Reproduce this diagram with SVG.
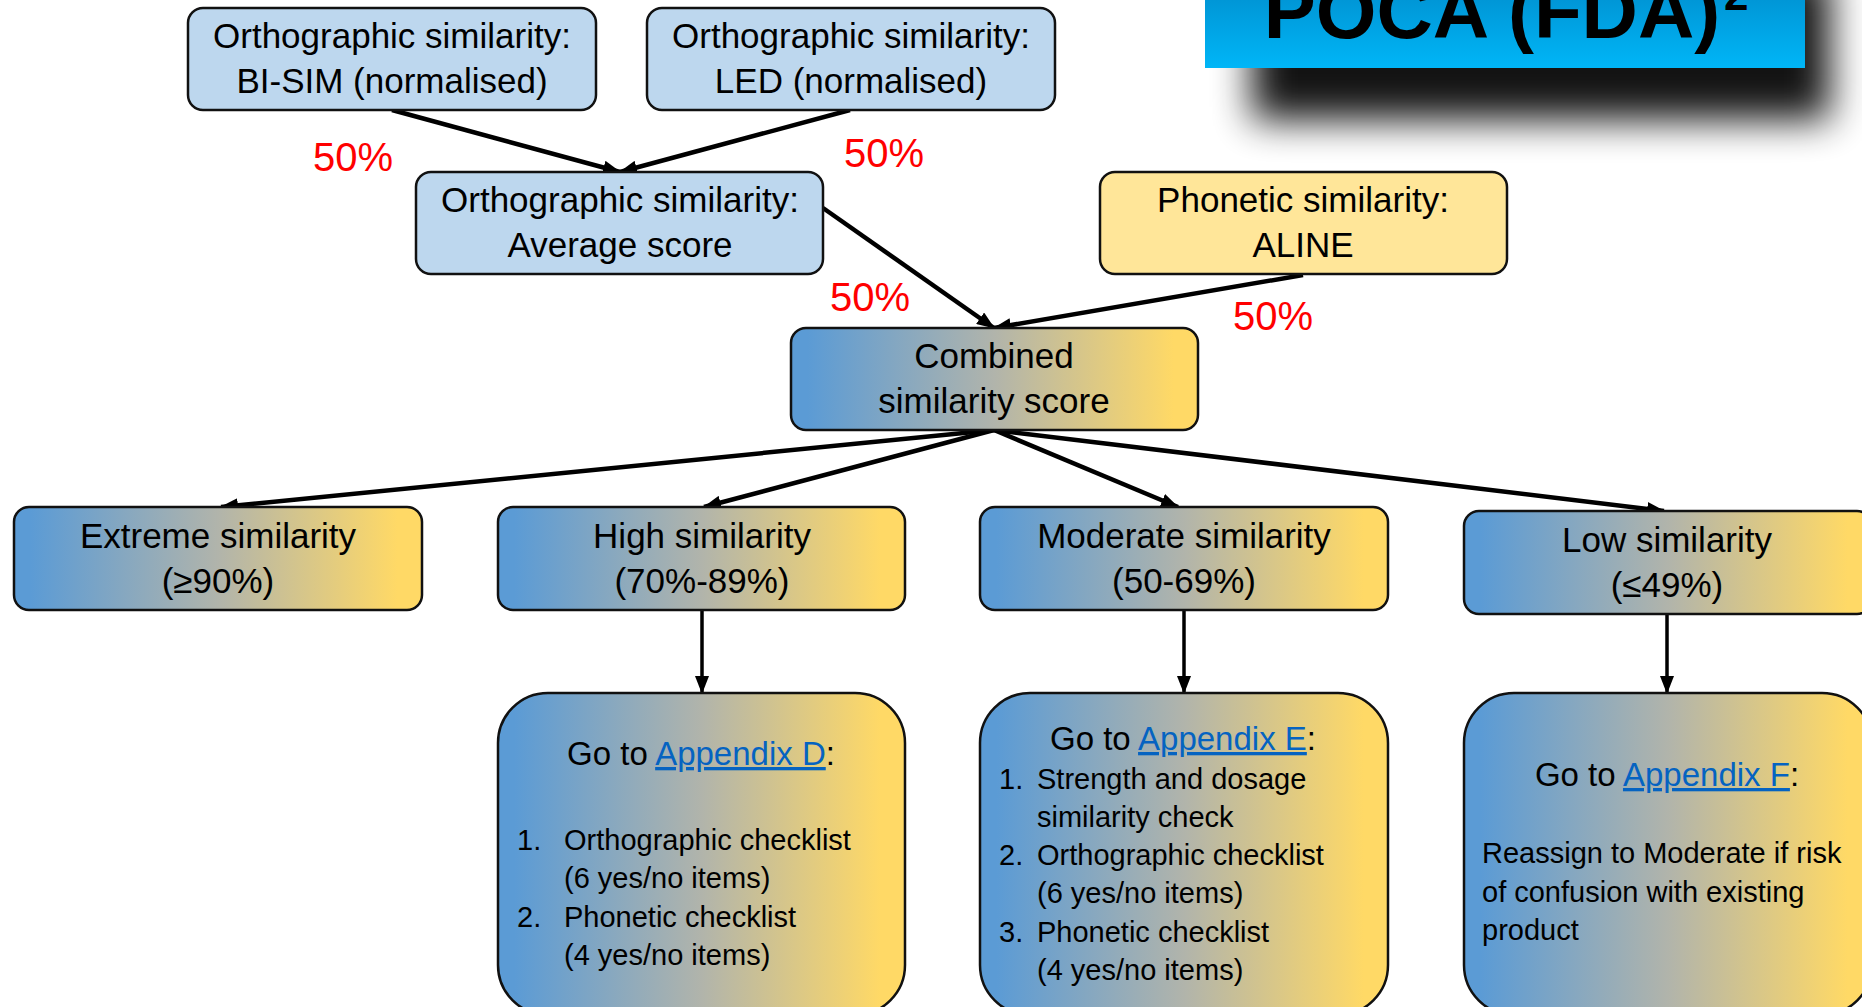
<svg xmlns="http://www.w3.org/2000/svg" width="1862" height="1007" viewBox="0 0 1862 1007">
<defs>
<style>
.t{font-family:"Liberation Sans",Arial,sans-serif;font-size:35px;fill:#000;text-anchor:middle}
.p{font-family:"Liberation Sans",Arial,sans-serif;font-size:40px;fill:#ff0000}
.h{font-family:"Liberation Sans",Arial,sans-serif;font-size:33px;fill:#000;text-anchor:middle}
.l{font-family:"Liberation Sans",Arial,sans-serif;font-size:29px;fill:#000}
.lk{fill:#0563c1;text-decoration:underline}
.blue{fill:#bdd7ee;stroke:#111;stroke-width:2.5}
.yel{fill:#ffe699;stroke:#111;stroke-width:2.5}
.grad{fill:url(#bg);stroke:#111;stroke-width:2.5}
.c{stroke:#000;stroke-width:4.5;fill:none;marker-end:url(#ah)}
.v{stroke:#000;stroke-width:3.5;fill:none;marker-end:url(#ah)}
</style>
<linearGradient id="bg" x1="0" y1="0" x2="1" y2="0">
<stop offset="0.04" stop-color="#5b9bd5"/>
<stop offset="0.5" stop-color="#b1b4ab"/>
<stop offset="0.94" stop-color="#ffd966"/>
</linearGradient>
<linearGradient id="tg" x1="0" y1="0" x2="0" y2="1">
<stop offset="0" stop-color="#0092d2"/>
<stop offset="1" stop-color="#00b6f7"/>
</linearGradient>
<filter id="sh" x="-20%" y="-60%" width="140%" height="220%">
<feGaussianBlur stdDeviation="19"/>
</filter>
<marker id="ah" markerUnits="userSpaceOnUse" markerWidth="18" markerHeight="14" refX="17" refY="7" orient="auto">
<path d="M0,0 L18,7 L0,14 z" fill="#000"/>
</marker>
</defs>
<rect width="1862" height="1007" fill="#fff"/>

<g id="title">
<rect x="1252" y="-30" width="578" height="150" fill="#000" opacity="0.92" filter="url(#sh)"/>
<rect x="1205" y="-10" width="600" height="78" fill="url(#tg)"/>
<text x="1492" y="38" font-family="'Liberation Sans',Arial,sans-serif" font-weight="bold" font-size="78" text-anchor="middle" fill="#000">POCA (FDA)</text>
<text x="1724" y="10" font-family="'Liberation Sans',Arial,sans-serif" font-weight="bold" font-size="44" fill="#000">2</text>
</g>

<g id="connectors">
<line class="c" x1="392" y1="110" x2="620" y2="172"/>
<line class="c" x1="850" y1="110" x2="620" y2="172"/>
<line class="c" x1="823" y1="208" x2="994" y2="328"/>
<line class="c" x1="1303" y1="275" x2="994" y2="328"/>
<line class="c" x1="994" y1="430" x2="221" y2="507"/>
<line class="c" x1="994" y1="430" x2="704" y2="507"/>
<line class="c" x1="994" y1="430" x2="1178" y2="507"/>
<line class="c" x1="994" y1="430" x2="1664" y2="511"/>
<line class="v" x1="702" y1="610" x2="702" y2="693"/>
<line class="v" x1="1184" y1="610" x2="1184" y2="693"/>
<line class="v" x1="1667" y1="614" x2="1667" y2="693"/>
</g>

<g id="labels">
<text class="p" x="313" y="171">50%</text>
<text class="p" x="844" y="167">50%</text>
<text class="p" x="830" y="311">50%</text>
<text class="p" x="1233" y="330">50%</text>
</g>

<g id="bisim">
<rect class="blue" x="188" y="8" width="408" height="102" rx="15"/>
<text class="t" x="392" y="48">Orthographic similarity:</text>
<text class="t" x="392" y="93">BI-SIM (normalised)</text>
</g>
<g id="led">
<rect class="blue" x="647" y="8" width="408" height="102" rx="15"/>
<text class="t" x="851" y="48">Orthographic similarity:</text>
<text class="t" x="851" y="93">LED (normalised)</text>
</g>
<g id="average">
<rect class="blue" x="416" y="172" width="407" height="102" rx="15"/>
<text class="t" x="620" y="212">Orthographic similarity:</text>
<text class="t" x="620" y="257">Average score</text>
</g>
<g id="phonetic">
<rect class="yel" x="1100" y="172" width="407" height="102" rx="15"/>
<text class="t" x="1303" y="212">Phonetic similarity:</text>
<text class="t" x="1303" y="257">ALINE</text>
</g>
<g id="combined">
<rect class="grad" x="791" y="328" width="407" height="102" rx="15"/>
<text class="t" x="994" y="368">Combined</text>
<text class="t" x="994" y="413">similarity score</text>
</g>
<g id="extreme">
<rect class="grad" x="14" y="507" width="408" height="103" rx="15"/>
<text class="t" x="218" y="548">Extreme similarity</text>
<text class="t" x="218" y="593">(≥90%)</text>
</g>
<g id="high">
<rect class="grad" x="498" y="507" width="407" height="103" rx="15"/>
<text class="t" x="702" y="548">High similarity</text>
<text class="t" x="702" y="593">(70%-89%)</text>
</g>
<g id="moderate">
<rect class="grad" x="980" y="507" width="408" height="103" rx="15"/>
<text class="t" x="1184" y="548">Moderate similarity</text>
<text class="t" x="1184" y="593">(50-69%)</text>
</g>
<g id="low">
<rect class="grad" x="1464" y="511" width="408" height="103" rx="15"/>
<text class="t" x="1667" y="552">Low similarity</text>
<text class="t" x="1667" y="597">(≤49%)</text>
</g>

<g id="appD">
<rect class="grad" x="498" y="693" width="407" height="322" rx="50"/>
<text class="h" x="701" y="765">Go to <tspan class="lk">Appendix D</tspan>:</text>
<text class="l" x="517" y="850">1.</text>
<text class="l" x="564" y="850">Orthographic checklist</text>
<text class="l" x="564" y="888">(6 yes/no items)</text>
<text class="l" x="517" y="927">2.</text>
<text class="l" x="564" y="927">Phonetic checklist</text>
<text class="l" x="564" y="965">(4 yes/no items)</text>
</g>
<g id="appE">
<rect class="grad" x="980" y="693" width="408" height="322" rx="50"/>
<text class="h" x="1183" y="750">Go to <tspan class="lk">Appendix E</tspan>:</text>
<text class="l" x="999" y="789">1.</text>
<text class="l" x="1037" y="789">Strength and dosage</text>
<text class="l" x="1037" y="827">similarity check</text>
<text class="l" x="999" y="865">2.</text>
<text class="l" x="1037" y="865">Orthographic checklist</text>
<text class="l" x="1037" y="903">(6 yes/no items)</text>
<text class="l" x="999" y="942">3.</text>
<text class="l" x="1037" y="942">Phonetic checklist</text>
<text class="l" x="1037" y="980">(4 yes/no items)</text>
</g>
<g id="appF">
<rect class="grad" x="1464" y="693" width="408" height="322" rx="50"/>
<text class="h" x="1667" y="786">Go to <tspan class="lk">Appendix F</tspan>:</text>
<text class="l" x="1482" y="863">Reassign to Moderate if risk</text>
<text class="l" x="1482" y="902">of confusion with existing</text>
<text class="l" x="1482" y="940">product</text>
</g>
</svg>
